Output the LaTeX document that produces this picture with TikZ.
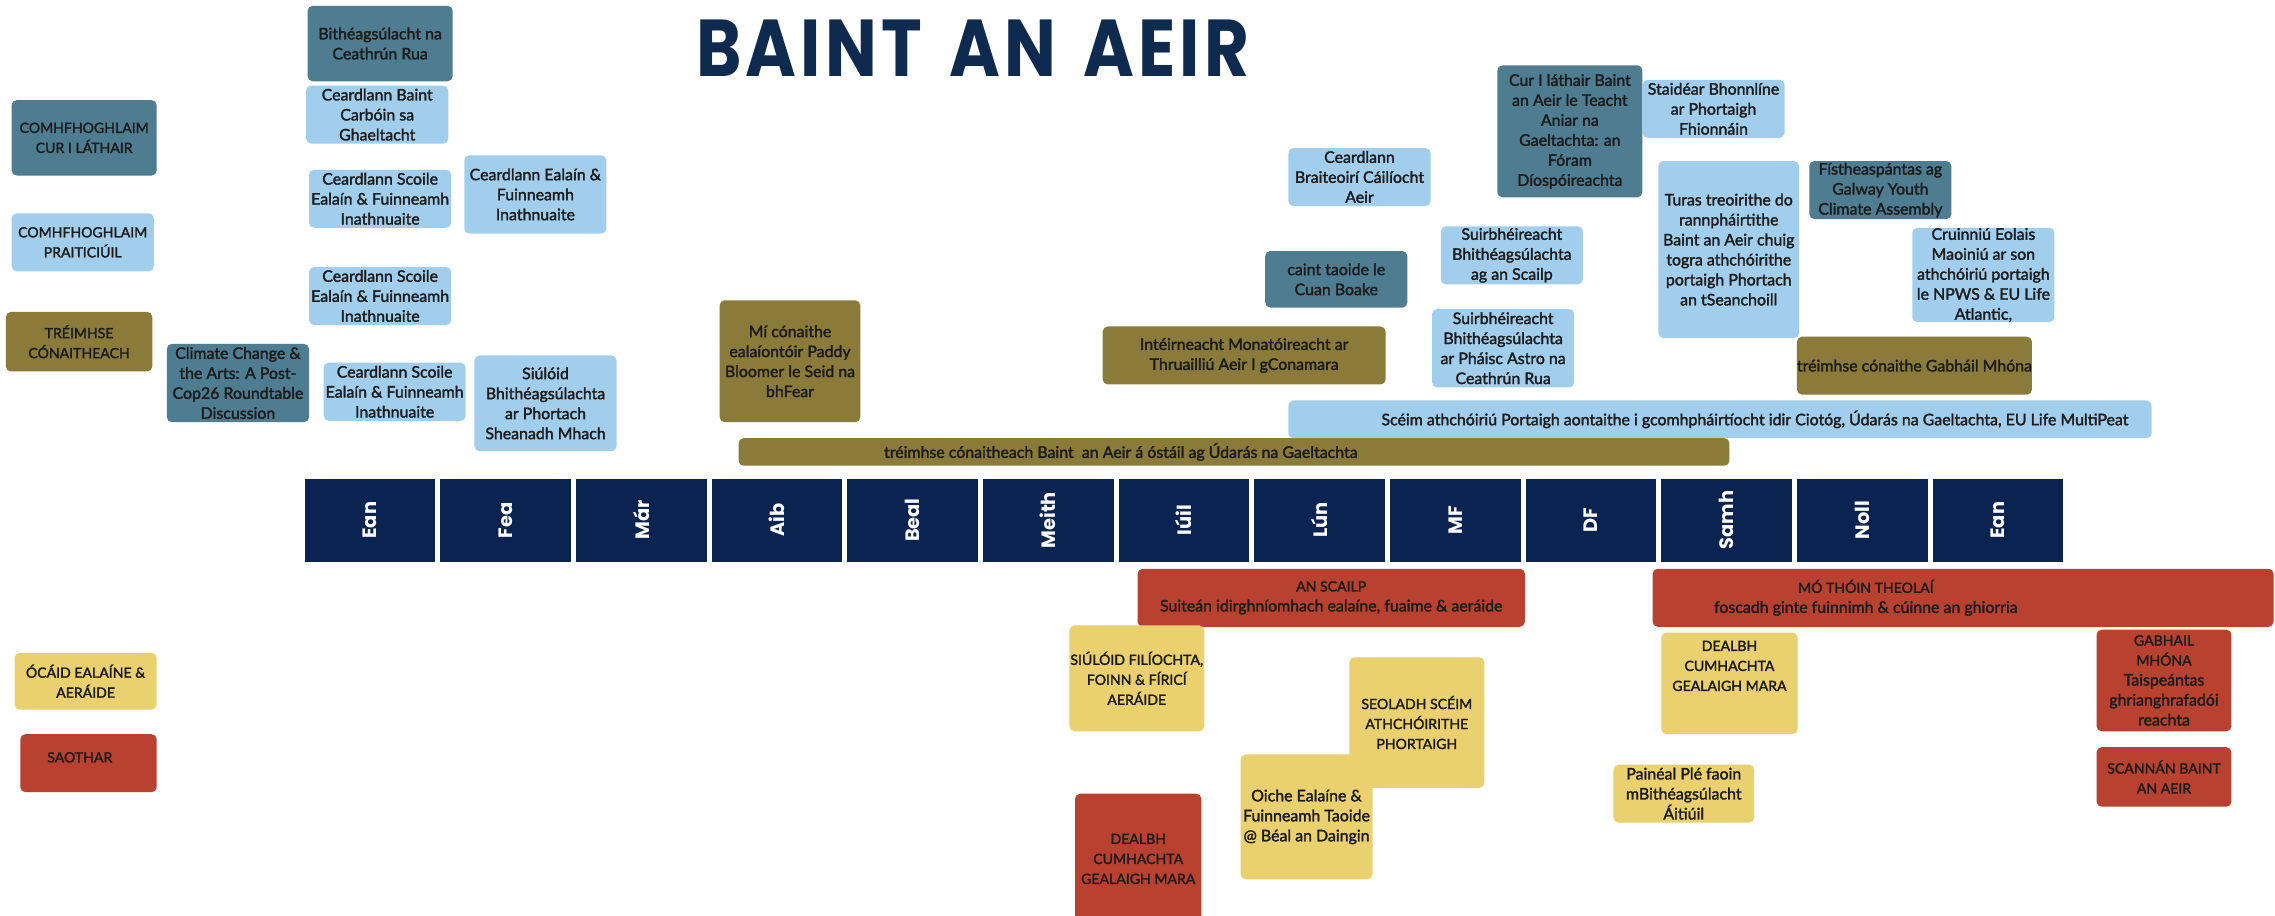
\documentclass[tikz,border=0pt]{standalone}
\usepackage{fontspec}
\usepackage{graphicx}
\setmainfont{Lato}
\newfontfamily\boxfont[FakeBold=2]{Lato}
\newfontfamily\monthfont{Poppins}
\newfontfamily\titlefont[LetterSpace=6]{Poppins}
\newcommand\capsize{\fontsize{6.9}{9.8}\selectfont}
\definecolor{navy}{HTML}{0A2350}
\definecolor{titleblue}{HTML}{0E2A4F}
\definecolor{steel}{HTML}{4E7C90}
\definecolor{skyb}{HTML}{A2CEED}
\definecolor{olive}{HTML}{8B7B3A}
\definecolor{sand}{HTML}{EBD06F}
\definecolor{brick}{HTML}{B9412F}
\definecolor{ink}{HTML}{1C1C1C}
\begin{document}
\begin{tikzpicture}[x=0.25mm, y=-0.25mm,
        box/.style={rounded corners=2.5pt, align=center, inner sep=0pt, text=ink,
                    font=\boxfont\fontsize{7.8}{9.8}\selectfont},
        caps/.style={font=\boxfont\capsize},
        sz/.style 2 args={minimum width=#1*0.25mm, minimum height=#2*0.25mm},
        steelbox/.style={box, fill=steel},
        skybox/.style={box, fill=skyb},
        olivebox/.style={box, fill=olive},
        sandbox/.style={box, fill=sand},
        brickbox/.style={box, fill=brick},
        month/.style={fill=navy, text=white, sz={90}{57}, inner sep=0pt,
                      font=\monthfont\bfseries\fontsize{9.5}{11}\selectfont}]
        \useasboundingbox (0,0) rectangle (1568,631);
        \fill[white] (0,0) rectangle (1568,631);

        % Title
        \node[text=titleblue, inner sep=0pt] (title) at (670.5,33.5)
            {\resizebox{95.25mm}{9.75mm}{\titlefont\bfseries BAINT\hspace{0.4em}AN\hspace{0.4em}AEIR}};

        % Legend
        \node[steelbox, caps, sz={100}{52}] (legCur) at (58,95) {COMHFHOGHLAIM\\CUR I LÁTHAIR};
        \node[skybox, caps, sz={98}{40}] (legPrait) at (57,167) {COMHFHOGHLAIM\\PRAITICIÚIL};
        \node[olivebox, caps, sz={101}{41}] (legCona) at (54.5,235.5) {TRÉIMHSE\\CÓNAITHEACH};
        \node[sandbox, caps, sz={98}{39}] (legOcaid) at (59,469.5) {ÓCÁID EALAÍNE \&\\AERÁIDE};
        \node[brickbox, sz={94}{40}] (legSaothar) at (61,526) {};
        \node[box, caps] (legSaotharT) at (55,522) {SAOTHAR};

        % Events above the months
        \node[steelbox, sz={100}{52}] (bith) at (262,30) {Bithéagsúlacht na\\Ceathrún Rua};
        \node[skybox, sz={98}{40}] (carbon) at (260,79) {Ceardlann Baint\\Carbóin sa\\Ghaeltacht};
        \node[skybox, sz={98}{40}] (scoileA) at (262,137) {Ceardlann Scoile\\Ealaín \& Fuinneamh\\Inathnuaite};
        \node[skybox, sz={98}{54}] (ealain) at (369,134) {Ceardlann Ealaín \&\\Fuinneamh\\Inathnuaite};
        \node[skybox, sz={98}{40}] (scoileB) at (262,204) {Ceardlann Scoile\\Ealaín \& Fuinneamh\\Inathnuaite};
        \node[skybox, sz={98}{40}] (scoileC) at (272,270) {Ceardlann Scoile\\Ealaín \& Fuinneamh\\Inathnuaite};
        \node[steelbox, sz={98}{54}] (climate) at (164,264) {Climate Change \&\\the Arts: A Post-\\Cop26 Roundtable\\Discussion};
        \node[skybox, sz={98}{66}] (siuloid) at (376,278) {Siúlóid\\Bhithéagsúlachta\\ar Phortach\\Sheanadh Mhach};
        \node[olivebox, sz={97}{84}] (mi) at (544.5,249) {Mí cónaithe\\ealaíontóir Paddy\\Bloomer le Seid na\\bhFear};
        \node[olivebox, sz={683}{19}] (treimhse) at (850.5,311.5)
            {tréimhse cónaitheach Baint~ an Aeir á óstáil ag Údarás na Gaeltachta\hspace*{39mm}};
        \node[skybox, sz={595}{26}] (sceim) at (1185.5,289)
            {\hspace*{12mm}Scéim athchóiriú Portaigh aontaithe i gcomhpháirtíocht idir Ciotóg, Údarás na Gaeltachta, EU Life MultiPeat};
        \node[olivebox, sz={195}{40}] (intern) at (857.5,245) {Intéirneacht Monatóireacht ar\\Thruailliú Aeir I gConamara};
        \node[steelbox, sz={98}{39}] (caint) at (921,192.5) {caint taoide le\\Cuan Boake};
        \node[skybox, sz={98}{40}] (braite) at (937,122) {Ceardlann\\Braiteoirí Cáilíocht\\Aeir};
        \node[skybox, sz={98}{40}] (suirbA) at (1042,176) {Suirbhéireacht\\Bhithéagsúlachta\\ag an Scailp};
        \node[skybox, sz={98}{54}] (suirbB) at (1036,240) {Suirbhéireacht\\Bhithéagsúlachta\\ar Pháisc Astro na\\Ceathrún Rua};
        \node[steelbox, sz={100}{91}] (curlat) at (1082,90.5) {Cur I láthair Baint\\an Aeir le Teacht\\Aniar na\\Gaeltachta: an\\Fóram\\Díospóireachta};
        \node[skybox, sz={98}{40}] (staidear) at (1181,75) {Staidéar Bhonnlíne\\ar Phortaigh\\Fhionnáin};
        \node[skybox, sz={97}{122}] (turas) at (1191.5,172) {Turas treoirithe do\\rannpháirtithe\\Baint an Aeir chuig\\togra athchóirithe\\portaigh Phortach\\an tSeanchoill};
        \node[steelbox, sz={98}{40}] (fis) at (1296,131) {Fístheaspántas ag\\Galway Youth\\Climate Assembly};
        \node[skybox, sz={98}{65}] (cruinniu) at (1367,189.5) {Cruinniú Eolais\\Maoiniú ar son\\athchóiriú portaigh\\le NPWS \& EU Life\\Atlantic,};
        \node[olivebox, sz={161}{40}] (gabhail) at (1319.5,252) {tréimhse cónaithe Gabháil Mhóna};

        % Months row
        \foreach \m [count=\i from 0] in {Ean,Fea,Már,Aib,Beal,Meith,Iúil,Lún,MF,DF,Samh,Noll,Ean} {
            \node[month] (M\i) at (255+93.5*\i,358.5) {\rotatebox{90}{\m}};
        }

        % Events below the months
        \node[brickbox, sz={267}{40}] (scailp) at (917.5,412) {{\capsize AN SCAILP}\\Suiteán idirghníomhach ealaíne, fuaime \& aeráide};
        \node[brickbox, sz={428}{40}] (mothoin) at (1353,412)
            {{\capsize MÓ THÓIN THEOLAÍ}\hspace*{33.5mm}\\foscadh ginte fuinnimh \& cúinne an ghiorria\hspace*{33.5mm}};
        \node[sandbox, caps, sz={93}{73}] (siulfil) at (783.5,467.5) {SIÚLÓID FILÍOCHTA,\\FOINN \& FÍRICÍ\\AERÁIDE};
        \node[sandbox, sz={91}{86}] (oiche) at (900.5,563) {Oiche Ealaíne \&\\Fuinneamh Taoide\\@ Béal an Daingin};
        \node[sandbox, caps, sz={93}{90}] (seoladh) at (976.5,498) {SEOLADH SCÉIM\\ATHCHÓIRITHE\\PHORTAIGH};
        \node[brickbox, caps, sz={87}{90}] (dealbhR) at (784.5,592) {DEALBH\\CUMHACHTA\\GEALAIGH MARA};
        \node[sandbox, sz={94}{70}] (dealbhY) at (1192,471) {};
        \node[box, caps] (dealbhYT) at (1192,459) {DEALBH\\CUMHACHTA\\GEALAIGH MARA};
        \node[sandbox, sz={97}{40}] (paneal) at (1160.5,547) {Painéal Plé faoin\\mBithéagsúlacht\\Áitiúil};
        \node[brickbox, sz={93}{70}] (gabhailR) at (1491.5,469) {{\capsize GABHAIL}\\{\capsize MHÓNA}\\Taispeántas\\ghrianghrafadói\\reachta};
        \node[brickbox, caps, sz={93}{41}] (scannan) at (1491.5,535.5) {SCANNÁN BAINT\\AN AEIR};
\end{tikzpicture}
\end{document}
